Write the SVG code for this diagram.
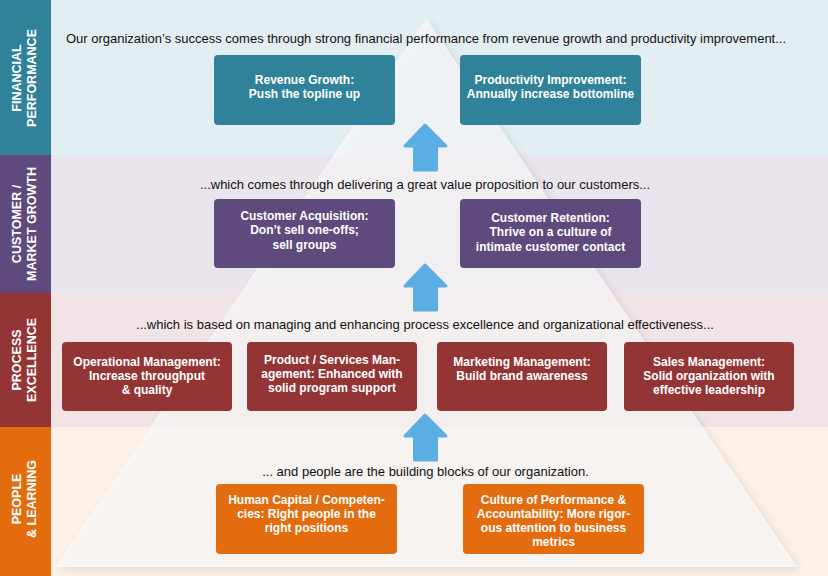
<svg xmlns="http://www.w3.org/2000/svg" width="828" height="576" viewBox="0 0 828 576">
<style>
.side{fill:#fff;font-family:"Liberation Sans",Arial,sans-serif;font-weight:bold;font-size:12.5px;text-anchor:middle}
.lead{fill:#111;font-family:"Liberation Sans",Arial,sans-serif;font-size:13px;text-anchor:middle}
.bt{fill:#fff;font-family:"Liberation Sans",Arial,sans-serif;font-weight:bold;font-size:12px;text-anchor:middle}
.fin{fill:#2f8299}.cus{fill:#5e4a7c}.pro{fill:#943535}.peo{fill:#e26c0e}
.arr{fill:#5aaee3;stroke:#5aaee3;stroke-width:3;stroke-linejoin:round}
</style>
<defs>
<filter id="sh" x="-10%" y="-10%" width="120%" height="120%">
<feGaussianBlur in="SourceAlpha" stdDeviation="4"/>
<feOffset dx="3" dy="3" result="b"/>
<feComponentTransfer><feFuncA type="linear" slope="0.18"/></feComponentTransfer>
<feMerge><feMergeNode/><feMergeNode in="SourceGraphic"/></feMerge>
</filter>
</defs>
<g id="bands">
<rect x="0" y="0" width="828" height="155" fill="#e3eef3"/>
<rect x="0" y="155" width="828" height="138" fill="#eae5ed"/>
<rect x="0" y="293" width="828" height="134" fill="#f1e4e6"/>
<rect x="0" y="427" width="828" height="149" fill="#fdf1e7"/>
</g>
<g id="pyramid">
<polygon points="426,18 797,567 56,567" fill="#fbfbfb" fill-opacity="0.62" filter="url(#sh)"/>
</g>
<g id="sidebar">
<rect x="0" y="0" width="51" height="155" class="fin"/>
<rect x="0" y="155" width="51" height="138" class="cus"/>
<rect x="0" y="293" width="51" height="134" class="pro"/>
<rect x="0" y="427" width="51" height="149" class="peo"/>
<text class="side" transform="translate(20.5,78) rotate(-90)">FINANCIAL</text>
<text class="side" transform="translate(35.5,78) rotate(-90)">PERFORMANCE</text>
<text class="side" transform="translate(20.5,224) rotate(-90)">CUSTOMER /</text>
<text class="side" transform="translate(35.5,224) rotate(-90)">MARKET GROWTH</text>
<text class="side" transform="translate(20.5,360) rotate(-90)">PROCESS</text>
<text class="side" transform="translate(35.5,360) rotate(-90)">EXCELLENCE</text>
<text class="side" transform="translate(20.5,499) rotate(-90)">PEOPLE</text>
<text class="side" transform="translate(35.5,499) rotate(-90)">&amp; LEARNING</text>
</g>
<g id="leads">
<text class="lead" x="426" y="43">Our organization’s success comes through strong financial performance from revenue growth and productivity improvement...</text>
<text class="lead" x="425" y="189">...which comes through delivering a great value proposition to our customers...</text>
<text class="lead" x="425" y="329">...which is based on managing and enhancing process excellence and organizational effectiveness...</text>
<text class="lead" x="425.5" y="476">... and people are the building blocks of our organization.</text>
</g>
<g id="connectors">
<path class="arr" d="M425,125 L446,146 L436.5,146 L436.5,170 L414.5,170 L414.5,146 L405,146 Z"/>
<path class="arr" d="M425,265 L446,286 L436.5,286 L436.5,310 L414.5,310 L414.5,286 L405,286 Z"/>
<path class="arr" d="M425,415 L446,436 L436.5,436 L436.5,460 L414.5,460 L414.5,436 L405,436 Z"/>
</g>
<g id="revenue-growth">
<rect x="214" y="55" width="181" height="70" rx="4" class="fin"/>
<text class="bt" x="304.5" y="84">Revenue Growth:</text>
<text class="bt" x="304.5" y="98">Push the topline up</text>
</g>
<g id="productivity-improvement">
<rect x="460" y="55" width="181" height="70" rx="4" class="fin"/>
<text class="bt" x="550.5" y="84">Productivity Improvement:</text>
<text class="bt" x="550.5" y="98">Annually increase bottomline</text>
</g>
<g id="customer-acquisition">
<rect x="214" y="199" width="181" height="69" rx="4" class="cus"/>
<text class="bt" x="304.5" y="220">Customer Acquisition:</text>
<text class="bt" x="304.5" y="234">Don’t sell one-offs;</text>
<text class="bt" x="304.5" y="249">sell groups</text>
</g>
<g id="customer-retention">
<rect x="460" y="199" width="181" height="69" rx="4" class="cus"/>
<text class="bt" x="550.5" y="222">Customer Retention:</text>
<text class="bt" x="550.5" y="236">Thrive on a culture of</text>
<text class="bt" x="550.5" y="251">intimate customer contact</text>
</g>
<g id="operational-management">
<rect x="62" y="342" width="170" height="69" rx="4" class="pro"/>
<text class="bt" x="147" y="366">Operational Management:</text>
<text class="bt" x="147" y="380">Increase throughput</text>
<text class="bt" x="147" y="394">&amp; quality</text>
</g>
<g id="product-services-management">
<rect x="247" y="342" width="170" height="69" rx="4" class="pro"/>
<text class="bt" x="332" y="364">Product / Services Man-</text>
<text class="bt" x="332" y="378">agement: Enhanced with</text>
<text class="bt" x="332" y="392">solid program support</text>
</g>
<g id="marketing-management">
<rect x="437" y="342" width="170" height="69" rx="4" class="pro"/>
<text class="bt" x="522" y="366">Marketing Management:</text>
<text class="bt" x="522" y="380">Build brand awareness</text>
</g>
<g id="sales-management">
<rect x="624" y="342" width="170" height="69" rx="4" class="pro"/>
<text class="bt" x="709" y="366">Sales Management:</text>
<text class="bt" x="709" y="380">Solid organization with</text>
<text class="bt" x="709" y="394">effective leadership</text>
</g>
<g id="human-capital">
<rect x="216" y="484" width="181" height="70" rx="4" class="peo"/>
<text class="bt" x="306.5" y="504">Human Capital / Competen-</text>
<text class="bt" x="306.5" y="518">cies: Right people in the</text>
<text class="bt" x="306.5" y="532">right positions</text>
</g>
<g id="culture-of-performance">
<rect x="463" y="484" width="181" height="70" rx="4" class="peo"/>
<text class="bt" x="553.5" y="504">Culture of Performance &amp;</text>
<text class="bt" x="553.5" y="518">Accountability: More rigor-</text>
<text class="bt" x="553.5" y="532">ous attention to business</text>
<text class="bt" x="553.5" y="546">metrics</text>
</g>
</svg>
